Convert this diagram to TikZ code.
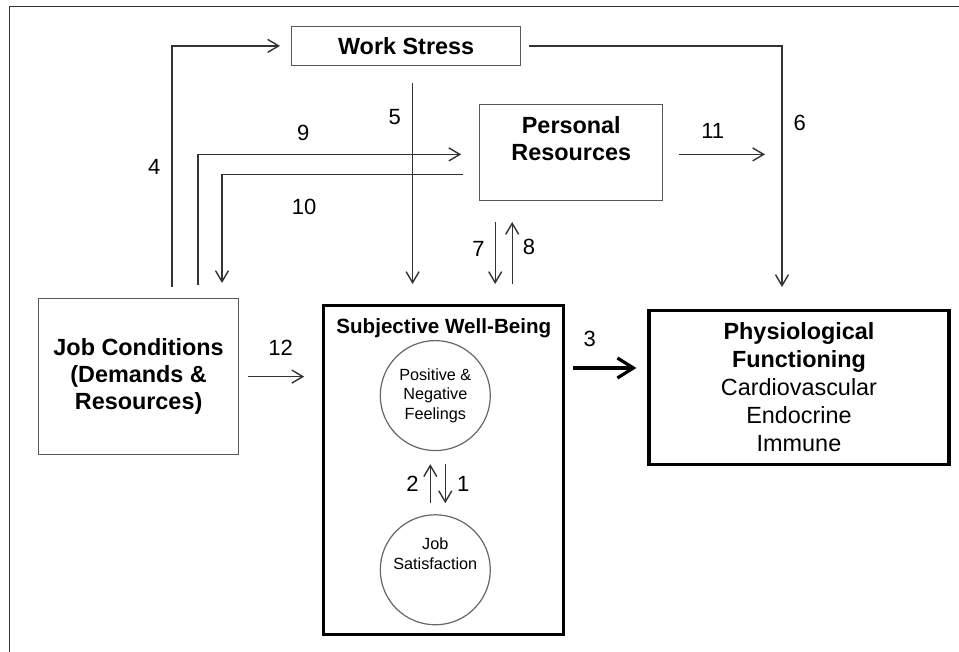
\documentclass[tikz,border=0pt]{standalone}
\usepackage{fontspec}
\setmainfont{Liberation Sans}
\usetikzlibrary{arrows.meta, positioning}

\begin{document}
\begin{tikzpicture}[
  >={Straight Barb[length=5.5pt, width=6.5pt]},
  every node/.style={font=\fontsize{11.7}{13.5}\selectfont},
  thinbox/.style={rectangle, draw=black!65, line width=0.6pt, align=center, inner sep=2pt, font=\fontsize{11.7}{13.5}\selectfont\bfseries},
  thickbox/.style={rectangle, draw=black, line width=1.6pt, align=center, inner sep=2pt},
  feeling/.style={circle, draw=black!60, line width=0.6pt, minimum size=55pt, align=center, inner sep=0pt, font=\fontsize{8.1}{9.8}\selectfont},
  num/.style={font=\fontsize{11}{13}\selectfont, inner sep=1pt},
  link/.style={->, draw=black!80, line width=0.7pt},
  biglink/.style={-{Straight Barb[length=8pt, width=10pt]}, draw=black, line width=1.6pt}
]
\useasboundingbox (-19pt,149pt) rectangle (460.5pt,-177pt);

% Frame
\draw[black!80, line width=0.5pt] (-14pt,-177pt) -- (-14pt,145.5pt) -- (460.5pt,145.5pt);

% Boxes
\node[thinbox, minimum width=100pt, minimum height=78pt, anchor=north west] (jobcond) at (0,0) {Job Conditions\\(Demands \&\\Resources)};
\node[thickbox, minimum width=120pt, minimum height=164.5pt, below right=3pt and 41.5pt of jobcond.north east,
  label={[anchor=north, inner sep=0pt, yshift=-7pt, font=\fontsize{10.3}{12}\selectfont\bfseries]north:Subjective Well-Being}] (swb) {};
\node[thickbox, minimum width=150pt, minimum height=77pt, below right=2.5pt and 41pt of swb.north east, font=\fontsize{11.7}{14}\selectfont] (phys) {\textbf{Physiological}\\\textbf{Functioning}\\Cardiovascular\\Endocrine\\Immune};
\node[thinbox, minimum width=91.5pt, minimum height=48pt, above right=51.5pt and 78.5pt of swb.north west] (personal) {Personal\\Resources\\\phantom{R}};
\node[thinbox, minimum width=114.5pt, minimum height=19.5pt, above right=116pt and 126.5pt of jobcond.north west] (stress) {Work Stress};

% Subjective well-being parts
\node[feeling, below=18pt of swb.north, xshift=-4.25pt] (posneg) {Positive \&\\Negative\\Feelings};
\node[feeling, below=31.5pt of posneg] (jobsat) {Job\\Satisfaction\\[6pt]\phantom{J}};

% Helper points
\coordinate (swbtop) at ([yshift=10pt]swb.north);
\coordinate (s5) at ([xshift=3.25pt,yshift=-8.5pt]stress.south);
\coordinate (p7) at ([xshift=8pt,yshift=-10.5pt]personal.south west);
\coordinate (p8) at ([xshift=16.5pt,yshift=-10.5pt]personal.south west);
\coordinate (e11) at ([xshift=-17pt,yshift=-1pt]phys.north |- personal.east);
\coordinate (a3) at ([yshift=-29.5pt]phys.north west);

% Connections
\draw[link] ([xshift=67pt,yshift=5.5pt]jobcond.north west) |- node[num, left=4.5pt, pos=0.25] {4} ([xshift=-5.5pt]stress.west);
\draw[link] ([xshift=80pt,yshift=6.5pt]jobcond.north west) |- node[num, above=5.5pt, pos=0.7] {9} ([xshift=-9pt,yshift=-1pt]personal.west);
\draw[link] ([xshift=-8pt,yshift=-11pt]personal.west) -| node[num, below=11pt, pos=0.33] {10} ([xshift=92pt,yshift=7.5pt]jobcond.north west);
\draw[link] (s5) -- node[num, left=4.5pt, pos=0.17] {5} (s5 |- swbtop);
\draw[link] ([xshift=4pt]stress.east) -| node[num, right=4.5pt, pos=0.66] {6} ([xshift=-8.5pt,yshift=11pt]phys.north);
\draw[link] ([xshift=8pt,yshift=-1pt]personal.east) -- node[num, above=6.5pt, pos=0.39] {11} (e11);
\draw[link] (p7) -- node[num, left=4pt, pos=0.43] {7} (p7 |- swbtop);
\draw[link] (p8 |- swbtop) -- node[num, right=4pt, pos=0.6] {8} (p8);
\draw[link] ([xshift=4.5pt]jobcond.east) -- node[num, above=9pt, pos=0.58] {12} ([xshift=-9pt]jobcond.east -| swb.west);
\draw[biglink] ([xshift=4pt]a3 -| swb.east) -- node[num, above=9pt, pos=0.26] {3} ([xshift=-5.5pt]a3);
\draw[link] ([xshift=-2.5pt,yshift=5.5pt]jobsat.north) -- node[num, left=4.5pt] {2} ([xshift=-2.5pt,yshift=-6.5pt]posneg.south);
\draw[link] ([xshift=5pt,yshift=-6.5pt]posneg.south) -- node[num, right=4.5pt] {1} ([xshift=5pt,yshift=5.5pt]jobsat.north);

\end{tikzpicture}
\end{document}
